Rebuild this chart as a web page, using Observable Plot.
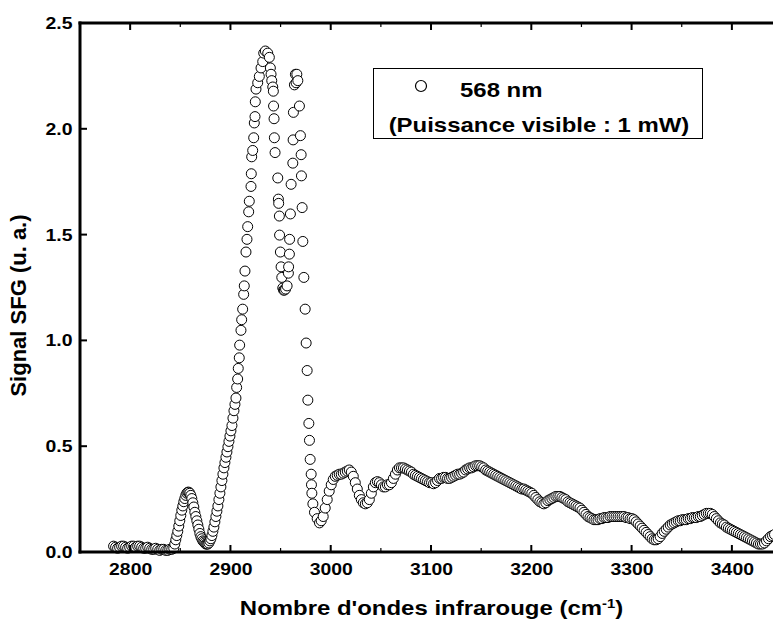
<!DOCTYPE html>
<html>
<head>
<meta charset="utf-8">
<script src="https://cdn.jsdelivr.net/npm/d3@7"></script>
<script src="https://cdn.jsdelivr.net/npm/@observablehq/plot@0.6"></script>
<style>
  html, body { margin: 0; padding: 0; background: #fff; }
  #chart svg { display: block; }
  #pad { position: fixed; right: 0; bottom: 0; width: 2px; height: 2px; font-size: 1px; color: #fff; background: #fff; z-index: 9; }
</style>
</head>
<body>
<div id="chart"></div>
<div id="pad">&nbsp;</div>
<script>
// ---- data: [wavenumber (cm-1), SFG signal (a.u.)] ----
const baselineRegion = [
  [2783,0.03],[2785,0.025],[2787,0.02],[2789,0.025],[2791,0.03],[2793,0.03],[2795,0.025],[2797,0.02],
  [2799,0.025],[2801,0.03],[2803,0.03],[2805,0.025],[2807,0.03],[2809,0.03],[2811,0.025],[2813,0.02],
  [2815,0.02],[2817,0.025],[2819,0.02],[2821,0.015],[2823,0.015],[2825,0.02],[2827,0.015],[2829,0.01],
  [2831,0.015],[2833,0.015],[2835,0.01],[2837,0.01],[2839,0.015],[2841,0.015]
];
const ch2Region = [
  [2843,0.02],[2844,0.04],[2845,0.06],[2846,0.08],[2847,0.10],[2848,0.125],[2849,0.15],[2850,0.175],
  [2851,0.20],[2852,0.22],[2853,0.24],[2854,0.255],[2855,0.27],[2856,0.28],[2857,0.285],[2858,0.285],
  [2859,0.28],[2860,0.27],[2861,0.255],[2862,0.235],[2863,0.215],[2864,0.19],[2865,0.17],[2866,0.15],
  [2867,0.13],[2868,0.11],[2869,0.09],[2870,0.075],[2871,0.065],[2872,0.055],[2873,0.05],[2874,0.045],
  [2875,0.04],[2876,0.04],[2877,0.04],[2878,0.045],[2879,0.055],[2880,0.065],[2881,0.08],[2882,0.10],
  [2883,0.12],[2884,0.145],[2885,0.17],[2886,0.195],[2887,0.22],[2888,0.25],[2889,0.28],[2890,0.31],
  [2891,0.34],[2892,0.37],[2893,0.40],[2894,0.425],[2895,0.45],[2896,0.475],[2897,0.50],[2898,0.525],
  [2899,0.55],[2900,0.575],[2901,0.60],[2902,0.635],[2903,0.67],[2904,0.70]
];
const ch3Region = [
  [2905,0.73],[2905.7,0.78],[2906.7,0.82],[2907.3,0.87],[2908.3,0.92],[2908.7,0.98],[2910,1.05],[2910.7,1.10],
  [2911.7,1.15],[2912.7,1.22],[2913.3,1.26],[2914,1.33],[2915,1.42],[2916,1.48],[2916.7,1.54],[2917.7,1.61],
  [2918.3,1.66],[2920,1.73],[2920.3,1.79],[2920.7,1.87],[2921.7,1.90],[2922.7,1.96],[2923.3,2.03],[2924,2.06],
  [2924.3,2.13],[2925,2.19],[2926.7,2.22],[2928.3,2.25],[2930,2.29],[2931.7,2.32],[2932.7,2.36],[2934.3,2.37],
  [2936.7,2.36],[2938.3,2.34],[2939.3,2.29],[2940,2.26],[2940.7,2.23],[2941.7,2.20],[2942.3,2.18],[2942.5,2.11],
  [2943,2.05],[2943.3,1.96],[2944,1.89],[2946.7,1.77],[2947.3,1.67],[2947.6,1.65],[2948.3,1.59],[2948.5,1.50],
  [2949.3,1.42],[2950,1.35],[2950.7,1.30],[2951.7,1.25],[2952.5,1.24],[2953.3,1.24],[2954.5,1.245],[2956,1.26],
  [2957.3,1.32],[2957.5,1.35],[2958.3,1.41],[2958.5,1.48],[2959.3,1.60],[2960,1.74],[2961.7,1.84],[2962,1.95],
  [2962.3,2.08],[2963.3,2.21],[2964.3,2.26],[2965,2.22],[2965.7,2.26],[2966.7,2.23],[2968.3,2.11],[2969.3,1.97],
  [2970,1.88],[2970.3,1.78],[2971,1.63],[2971.7,1.47],[2972.7,1.30],[2974,1.15],[2975,0.99],[2976,0.86],
  [2976.7,0.72],[2977.7,0.61],[2978.3,0.53],[2979,0.44],[2980,0.37],[2980.3,0.32],[2980.7,0.28],[2981.7,0.23],
  [2983.3,0.19],[2986,0.16],[2988.3,0.14],[2990,0.15]
];
const tailRegion = [
  [2992,0.17],[2994,0.21],[2996,0.25],[2998,0.29],[3000,0.32],[3002,0.345],[3004,0.36],[3006,0.365],
  [3008,0.37],[3010,0.37],[3012,0.375],[3014,0.38],[3016,0.385],[3018,0.39],[3020,0.38],[3022,0.36],
  [3024,0.33],[3026,0.30],[3028,0.27],[3030,0.25],[3032,0.235],[3034,0.23],[3036,0.235],[3038,0.25],
  [3040,0.28],[3042,0.31],[3044,0.33],[3046,0.335],[3048,0.33],[3050,0.32],[3052,0.31],[3054,0.31],
  [3056,0.32],[3058,0.32],[3060,0.33],[3062,0.35],[3064,0.37],[3066,0.39],[3068,0.40],[3070,0.40],
  [3072,0.40],[3074,0.395],[3076,0.39],[3078,0.385],[3080,0.38],[3082,0.37],[3084,0.365],[3086,0.36],
  [3088,0.355],[3090,0.35],[3092,0.345],[3094,0.34],[3096,0.335],[3098,0.33],[3100,0.33],[3102,0.325],
  [3104,0.33],[3106,0.34],[3108,0.35],[3110,0.35],[3112,0.355],[3114,0.355],[3116,0.35],[3118,0.35],
  [3120,0.355],[3122,0.36],[3124,0.365],[3126,0.37],[3128,0.37],[3130,0.375],[3132,0.38],[3134,0.39],
  [3136,0.395],[3138,0.40],[3140,0.40],[3142,0.405],[3144,0.41],[3146,0.41],[3148,0.41],[3150,0.405],
  [3152,0.40],[3154,0.39],[3156,0.385],[3158,0.38],[3160,0.375],[3162,0.37],[3164,0.365],[3166,0.36],
  [3168,0.355],[3170,0.35],[3172,0.345],[3174,0.34],[3176,0.335],[3178,0.33],[3180,0.325],[3182,0.32],
  [3184,0.315],[3186,0.31],[3188,0.305],[3190,0.30],[3192,0.30],[3194,0.295],[3196,0.29],[3198,0.285],
  [3200,0.28],[3202,0.27],[3204,0.26],[3206,0.25],[3208,0.24],[3210,0.235],[3212,0.23],[3214,0.235],
  [3216,0.245],[3218,0.25],[3220,0.255],[3222,0.26],[3224,0.265],[3226,0.265],[3228,0.265],[3230,0.26],
  [3232,0.255],[3234,0.25],[3236,0.24],[3238,0.235],[3240,0.23],[3242,0.225],[3244,0.22],[3246,0.215],
  [3248,0.21],[3250,0.20],[3252,0.19],[3254,0.18],[3256,0.17],[3258,0.165],[3260,0.16],[3262,0.155],
  [3264,0.155],[3266,0.155],[3268,0.16],[3270,0.16],[3272,0.165],[3274,0.165],[3276,0.165],[3278,0.17],
  [3280,0.17],[3282,0.17],[3284,0.17],[3286,0.17],[3288,0.17],[3290,0.17],[3292,0.17],[3294,0.165],
  [3296,0.165],[3298,0.16],[3300,0.16],[3302,0.155],[3304,0.145],[3306,0.135],[3308,0.125],[3310,0.115],
  [3312,0.105],[3314,0.095],[3316,0.085],[3318,0.075],[3320,0.065],[3322,0.06],[3324,0.06],[3326,0.065],
  [3328,0.075],[3330,0.09],[3332,0.10],[3334,0.11],[3336,0.12],[3338,0.13],[3340,0.135],[3342,0.14],
  [3344,0.145],[3346,0.15],[3348,0.15],[3350,0.155],[3352,0.155],[3354,0.155],[3356,0.16],[3358,0.16],
  [3360,0.165],[3362,0.165],[3364,0.165],[3366,0.17],[3368,0.17],[3370,0.175],[3372,0.18],[3374,0.185],
  [3376,0.185],[3378,0.185],[3380,0.18],[3382,0.17],[3384,0.16],[3386,0.15],[3388,0.14],[3390,0.135],
  [3392,0.13],[3394,0.12],[3396,0.115],[3398,0.11],[3400,0.105],[3402,0.10],[3404,0.095],[3406,0.09],
  [3408,0.085],[3410,0.08],[3412,0.075],[3414,0.07],[3416,0.065],[3418,0.06],[3420,0.055],[3422,0.05],
  [3424,0.045],[3426,0.04],[3428,0.04],[3430,0.04],[3432,0.045],[3434,0.055],[3436,0.065],[3438,0.075],
  [3440,0.08],[3442,0.085]
];

const xTicks = [2800, 2900, 3000, 3100, 3200, 3300, 3400];
const xMinorTicks = [2850, 2950, 3050, 3150, 3250, 3350];
const yTicks = [0, 0.5, 1.0, 1.5, 2.0, 2.5];
const xDomain = [2750, 3441];
const yDomain = [0, 2.5];
const seriesLabel = "568 nm";
const seriesNote = "(Puissance visible : 1 mW)";
const xTitleMain = "Nombre d'ondes infrarouge (cm";
const xTitleSup = "-1";
const xTitleEnd = ")";
const yTitle = "Signal SFG (u. a.)";

// ---- build ----
const points = [...baselineRegion, ...ch2Region, ...ch3Region, ...tailRegion]
  .map(([w, s]) => ({wavenumber: w, signal: s}));

const W = 773, H = 623;
const mL = 80, mR = 0, mT = 23, mB = 71;
const innerW = W - mL - mR, innerH = H - mT - mB;
const FONT = "Arial, 'Liberation Sans', Helvetica, sans-serif";

const plot = Plot.plot({
  width: W, height: H,
  marginLeft: mL, marginRight: mR, marginTop: mT, marginBottom: mB,
  x: {domain: xDomain},
  y: {domain: yDomain},
  style: {background: "white", fontFamily: FONT, fontSize: "17px", color: "black"},
  marks: [
    Plot.dot(points, {x: "wavenumber", y: "signal", r: 5, fill: "white", stroke: "black", strokeWidth: 1}),
    Plot.axisX({ticks: xTicks, tickSize: 0, tickPadding: 10, tickFormat: d => String(d),
                label: null, fontSize: 17, fontWeight: "bold", fill: "black"}),
    Plot.axisY({ticks: yTicks, tickSize: 0, tickPadding: 8, tickFormat: d3.format(".1f"),
                label: null, fontSize: 17, fontWeight: "bold", fill: "black"})
  ]
});

document.getElementById("chart").appendChild(plot);
const svg = d3.select(plot);

// ---- axis lines and inward ticks, positioned with the plot's own scales ----
const sx = plot.scale("x"), sy = plot.scale("y");
const X = v => sx.apply(v), Y = v => sy.apply(v);
const axesG = svg.append("g");
function bar(x0, y0, x1, y1) {
  axesG.append("rect")
    .attr("x", Math.min(x0, x1)).attr("y", Math.min(y0, y1))
    .attr("width", Math.abs(x1 - x0)).attr("height", Math.abs(y1 - y0))
    .attr("fill", "black").attr("stroke", "none");
}
const xL = X(xDomain[0]), xR = X(xDomain[1]);
const yB = Y(yDomain[0]), yT = Y(yDomain[1]);
bar(xL - 1.5, yB - 1.5, xR, yB + 1.5);       // bottom axis
bar(xL - 1.5, yT - 1.5, xR, yT + 1.5);       // top axis
bar(xL - 1.5, yT - 1.5, xL + 1.5, yB + 1.5); // left axis
for (const t of xTicks) {
  bar(X(t) - 1, yB - 7, X(t) + 1, yB);
  bar(X(t) - 1, yT, X(t) + 1, yT + 7);
}
for (const t of xMinorTicks) {
  bar(X(t) - 0.6, yB - 4, X(t) + 0.6, yB);
  bar(X(t) - 0.6, yT, X(t) + 0.6, yT + 4);
}
for (const t of yTicks) bar(xL, Y(t) - 1, xL + 7, Y(t) + 1);

function addText(parent, x, y, size, anchor) {
  return parent.append("text")
    .attr("x", x).attr("y", y)
    .attr("text-anchor", anchor)
    .attr("font-family", FONT).attr("font-size", size).attr("font-weight", "bold")
    .attr("fill", "black");
}

// axis titles
const xt = addText(svg, mL + innerW / 2 + 5, 615, 21, "middle").attr("class", "stretch");
xt.append("tspan").text(xTitleMain);
xt.append("tspan").attr("dy", "-0.55em").attr("font-size", 13).text(xTitleSup);
xt.append("tspan").attr("dy", "0.35em").text(xTitleEnd);

addText(svg, 0, 0, 22, "middle")
  .attr("transform", `translate(26, ${mT + innerH / 2 + 18}) rotate(-90)`)
  .text(yTitle);

// legend box
const lg = svg.append("g");
lg.append("rect").attr("x", 373.5).attr("y", 68.5).attr("width", 329).attr("height", 70)
  .attr("fill", "white").attr("stroke", "black").attr("stroke-width", 1);
lg.append("circle").attr("cx", 421).attr("cy", 86).attr("r", 5.5)
  .attr("fill", "white").attr("stroke", "black").attr("stroke-width", 1.2);
addText(lg, 460, 97, 21, "start").attr("class", "stretch").text(seriesLabel);
addText(lg, 539, 132, 21, "middle").attr("class", "stretch").text(seriesNote);

// widen glyphs slightly, as in the original figure
function widen(sel, k) {
  sel.each(function () {
    const L = this.getComputedTextLength();
    if (L > 0) {
      this.setAttribute("textLength", (L * k).toFixed(1));
      this.setAttribute("lengthAdjust", "spacingAndGlyphs");
    }
  });
}
widen(svg.selectAll("g[aria-label$='tick label'] text"), 1.14);
widen(svg.selectAll("text.stretch"), 1.14);
</script>
</body>
</html>
